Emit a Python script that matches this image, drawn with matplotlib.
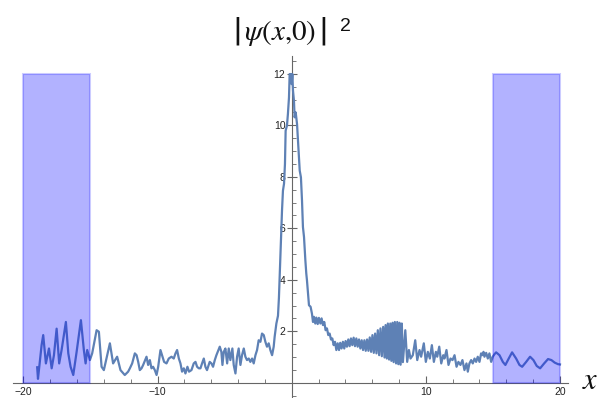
import matplotlib
matplotlib.use("Agg")
import matplotlib.pyplot as plt
from matplotlib.patches import Rectangle
from matplotlib.ticker import FixedLocator, NullFormatter

plt.rcParams['mathtext.fontset'] = 'stix'
plt.rcParams['font.family'] = ['Liberation Sans', 'DejaVu Sans']

# |psi(x,0)|^2
x_vals = [
    -18.97, -18.91, -18.64, -18.52, -18.32, -18.09, -17.89, -17.72, -17.52, -17.33,
    -17.15, -16.83, -16.65, -16.48, -16.28, -16.03, -15.71, -15.49, -15.36, -15.24,
    -15.04, -14.87, -14.54, -14.37, -14.17, -14.00, -13.55, -13.31, -13.01, -12.76,
    -12.44,
    -12.19, -12.06, -11.89, -11.69, -11.56, -11.44, -11.32, -11.19, -11.07, -10.82,
    -10.70, -10.57, -10.45, -10.33, -10.20, -10.07, -9.95, -9.78, -9.66, -9.51,
    -9.33, -9.16, -8.96, -8.79, -8.66, -8.54, -8.41, -8.29, -8.17, -8.04,
    -7.92, -7.77, -7.65, -7.47, -7.30, -7.17, -7.05, -6.92, -6.80, -6.68,
    -6.55, -6.43, -6.31, -6.11, -5.98, -5.86, -5.73, -5.61,
    -5.36, -5.24, -5.16, -5.06, -4.94, -4.81, -4.69, -4.57, -4.42, -4.32,
    -4.19, -4.07, -3.95, -3.82, -3.70, -3.57, -3.45, -3.33, -3.20, -3.08,
    -2.95, -2.83, -2.70, -2.58, -2.46, -2.33, -2.21, -2.08, -1.96, -1.84,
    -1.71, -1.59, -1.46, -1.34,
    -1.27, -1.14, -1.02, -0.95, -0.89, -0.82, -0.72, -0.65, -0.57, -0.50,
    -0.45, -0.35, -0.28, -0.20, -0.15, -0.07, 0.00, 0.05, 0.10, 0.17,
    0.22, 0.30, 0.40, 0.50, 0.60, 0.69, 0.77, 0.84, 0.92, 1.02,
    1.09, 1.14, 1.22, 1.29, 1.41, 1.51, 1.59, 1.66, 1.76,
    1.84, 1.94, 2.03, 2.14, 2.23, 2.33, 2.43, 2.53, 2.63, 2.73,
    2.83, 2.93, 3.03, 3.13, 3.23, 3.33, 3.43, 3.53, 3.62, 3.72,
    3.82, 3.92, 4.02, 4.12, 4.22, 4.32, 4.42, 4.52, 4.62, 4.72,
    4.82, 4.92, 5.02, 5.12, 5.22, 5.32, 5.42, 5.52, 5.62, 5.72,
    5.82, 5.92, 6.02, 6.12, 6.22, 6.32, 6.42, 6.52, 6.62, 6.72,
    6.82, 6.92, 7.00, 7.09, 7.17, 7.26, 7.35, 7.43, 7.52, 7.60,
    7.69, 7.78, 7.87, 7.95, 8.04, 8.12, 8.21, 8.29,
    8.47, 8.61, 8.74, 8.86, 9.03, 9.21, 9.36, 9.53, 9.65, 9.85,
    10.00, 10.15, 10.30, 10.45, 10.60, 10.75, 10.85, 11.00, 11.15, 11.30,
    11.39, 11.54, 11.69, 11.84, 11.99, 12.14, 12.29, 12.43, 12.58, 12.73,
    12.88, 13.03, 13.13,
    13.25, 13.38, 13.50, 13.63, 13.75, 13.87, 14.00, 14.12, 14.20, 14.30,
    14.37, 14.50, 14.62, 14.74, 14.87, 14.99, 15.12, 15.24, 15.49, 15.74,
    15.93, 16.18, 16.43, 16.73, 16.98, 17.18, 17.48, 17.77, 18.02, 18.27,
    18.52, 18.82, 19.11, 19.36, 19.61, 19.86, 20.00,
]
y_vals = [
    0.60, 0.15, 1.46, 1.85, 0.75, 1.33, 0.56, 1.07, 2.10, 0.75,
    1.27, 2.36, 1.14, 0.62, 0.30, 1.20, 2.43, 1.27, 0.75, 1.27,
    0.88, 1.14, 2.04, 1.98, 0.62, 0.49, 1.53, 0.75, 1.01, 0.49,
    0.30,
    0.43, 0.56, 0.75, 1.14, 1.07, 0.81, 0.49, 0.56, 0.69, 1.01,
    0.69, 0.88, 0.56, 0.62, 0.49, 0.30, 0.62, 1.27, 1.07, 0.81,
    0.75, 0.94, 1.01, 0.94, 1.14, 1.27, 0.94, 0.75, 0.43, 0.56,
    0.36, 0.62, 0.43, 0.49, 0.75, 0.81, 0.62, 0.56, 0.56, 0.75,
    0.94, 0.62, 0.49, 0.81, 0.75, 0.62, 0.88, 1.07,
    1.40, 1.20, 0.69, 1.20, 1.33, 0.75, 1.33, 0.88, 1.33, 0.69,
    0.36, 1.01, 1.33, 0.69, 1.07, 1.33, 1.01, 0.88, 0.94, 0.81,
    0.94, 0.75, 1.07, 1.27, 1.65, 1.59, 1.91, 1.85, 1.59, 1.40,
    1.53, 1.27, 1.07, 1.40,
    1.78, 2.30, 2.60, 3.30, 4.20, 5.14, 6.69, 7.46, 7.73, 8.50,
    9.79, 9.99, 10.44, 11.08, 11.99, 11.99, 11.60, 11.99, 11.34, 10.96,
    10.31, 10.50, 10.05, 9.15, 8.24, 7.98, 7.08, 6.05, 5.66, 4.76,
    4.24, 3.98, 3.47, 3.01, 2.95, 2.69, 2.36, 2.56, 2.30,
    2.53, 2.28, 2.52, 2.30, 2.50, 2.24, 2.36, 2.04, 2.11, 1.85,
    1.91, 1.68, 1.72, 1.46, 1.59, 1.27, 1.53, 1.27, 1.55, 1.33,
    1.59, 1.33, 1.62, 1.40, 1.68, 1.42, 1.72, 1.46, 1.75, 1.42,
    1.72, 1.40, 1.68, 1.33, 1.65, 1.27, 1.65, 1.24, 1.68, 1.24,
    1.76, 1.20, 1.85, 1.16, 1.91, 1.14, 2.04, 1.07, 2.11, 1.03,
    2.17, 0.98, 2.24, 0.94, 2.30, 0.90, 2.30, 0.85, 2.33, 0.80,
    2.36, 0.75, 2.36, 0.72, 2.33, 0.70, 2.30, 0.80,
    2.04, 0.81, 1.27, 0.94, 1.07, 1.65, 0.88, 1.27, 1.01, 1.53,
    0.81, 1.20, 0.94, 1.46, 0.81, 1.20, 1.01, 1.40, 0.75, 1.07,
    0.94, 1.27, 0.69, 0.94, 0.88, 1.07, 0.62, 0.81, 0.69, 0.88,
    0.49, 0.75, 0.43,
    0.75, 0.88, 0.75, 0.94, 0.81, 1.01, 0.81, 1.14, 1.07, 1.20,
    1.01, 1.16, 0.94, 1.14, 0.81, 1.01, 1.11, 1.18, 1.07, 0.81,
    0.69, 0.94, 1.18, 0.94, 0.69, 0.62, 0.81, 1.01, 0.88, 0.65,
    0.56, 0.75, 0.92, 0.88, 0.78, 0.72, 0.71,
]

# absorbing regions
region_starts = [-20, 15]
region_ends = [-15, 20]
region_height = 12

x_major = [-20, -10, 10, 20]
x_minor = [-18, -16, -14, -12, -8, -6, -4, -2, 2, 4, 6, 8, 12, 14, 16, 18]
y_major = [2, 4, 6, 8, 10, 12]
y_minor = [-0.5, 0.5, 1, 1.5, 2.5, 3, 3.5, 4.5, 5, 5.5, 6.5, 7, 7.5, 8.5, 9, 9.5,
           10.5, 11, 11.5, 12.5]

fig = plt.figure(figsize=(6.07, 3.98), dpi=100)
ax = fig.add_axes([0.0208, 0.0028, 0.915, 0.857])
ax.set_xlim(-20.8, 20.6)
ax.set_ylim(-0.55, 12.7)

ax.plot(x_vals, y_vals, color='#5E81B5', lw=1.6, zorder=2, solid_joinstyle='round')

for s, e in zip(region_starts, region_ends):
    ax.add_patch(Rectangle((s, 0), e - s, region_height,
                           facecolor=(0, 0, 1, 0.3), edgecolor=(0, 0, 1, 0.2),
                           lw=1.5, zorder=3))

for side in ['top', 'right']:
    ax.spines[side].set_visible(False)
ax.spines['left'].set_position(('data', 0))
ax.spines['bottom'].set_position(('data', 0))
for side in ['left', 'bottom']:
    ax.spines[side].set_color('#666666')
    ax.spines[side].set_linewidth(0.8)
    ax.spines[side].set_zorder(1)

ax.xaxis.set_major_locator(FixedLocator(x_major))
ax.xaxis.set_minor_locator(FixedLocator(x_minor))
ax.yaxis.set_major_locator(FixedLocator(y_major))
ax.yaxis.set_minor_locator(FixedLocator(y_minor))
ax.set_xticklabels(['\u221220', '\u221210', '10', '20'])
ax.set_yticklabels([str(v) for v in y_major])
ax.xaxis.set_minor_formatter(NullFormatter())
ax.yaxis.set_minor_formatter(NullFormatter())

ax.tick_params(axis='x', which='major', direction='in', length=5, width=0.8,
               color='#666666', labelsize=7.5, labelcolor='#222222', pad=3)
ax.tick_params(axis='x', which='minor', direction='in', length=3, width=0.6,
               color='#666666')
ax.tick_params(axis='y', which='major', direction='inout', length=7, width=0.8,
               color='#666666', labelsize=7.5, labelcolor='#222222', pad=1)
ax.tick_params(axis='y', which='minor', direction='in', length=3, width=0.6,
               color='#666666')

ax.patch.set_alpha(0)

fig.text(280 / 607, 1 - 40 / 398, r'$\left|\,\psi(x{,}0)\,\right|$', ha='center',
         va='baseline', fontsize=21, color='#111111')
fig.text(345 / 607, 1 - 31 / 398, '2', ha='center', va='baseline',
         fontsize=14, color='#111111', family=['Liberation Sans', 'DejaVu Sans'])
fig.text(590 / 607, 1 - 389 / 398, r'$x$', ha='center', va='baseline',
         fontsize=22, color='#111111')

fig.savefig('out.png', dpi=100)
